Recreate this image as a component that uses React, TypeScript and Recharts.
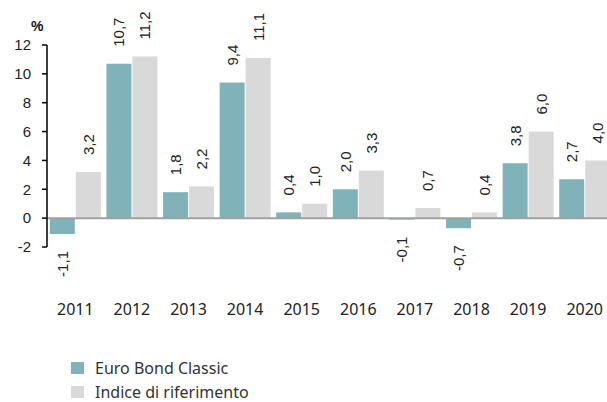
import React from 'react';
import { BarChart, Bar, XAxis, YAxis, ReferenceLine, Legend, LabelList } from 'recharts';

const years = ['2011', '2012', '2013', '2014', '2015', '2016', '2017', '2018', '2019', '2020'];
const fundValues = [-1.1, 10.7, 1.8, 9.4, 0.4, 2.0, -0.1, -0.7, 3.8, 2.7];
const benchmarkValues = [3.2, 11.2, 2.2, 11.1, 1.0, 3.3, 0.7, 0.4, 6.0, 4.0];
const yTicks = [-2, 0, 2, 4, 6, 8, 10, 12];
const seriesNames = ['Euro Bond Classic', 'Indice di riferimento'];

const TEAL = '#80b3b9';
const GRAY = '#d9d9d9';

const data = years.map((y, i) => ({ year: y, fund: fundValues[i], bench: benchmarkValues[i] }));

const fmt = (v: number) => v.toFixed(1).replace('.', ',');

const RotLabel = (props: any) => {
  const { x, y, width, height, value } = props;
  if (value === undefined || value === null) return null;
  const cx = Number(x) + Number(width) / 2;
  const top = Math.min(Number(y), Number(y) + Number(height));
  const bottom = Math.max(Number(y), Number(y) + Number(height));
  const neg = Number(value) < 0;
  const ay = neg ? bottom + 17 : top - 17;
  return (
    <text
      x={cx}
      y={ay}
      transform={`rotate(-90 ${cx} ${ay})`}
      textAnchor={neg ? 'end' : 'start'}
      dominantBaseline="central"
      fontFamily="'Liberation Sans', Arial, sans-serif"
      fontSize={15}
      fill="#222"
    >
      {fmt(Number(value))}
    </text>
  );
};

const LegendContent = () => (
  <div style={{ fontFamily: "'Noto Sans', sans-serif", fontSize: 16, color: '#333' }}>
    {[TEAL, GRAY].map((c, i) => (
      <div key={i} style={{ display: 'flex', alignItems: 'center', height: 24 }}>
        <div style={{ width: 13, height: 12, background: c, marginRight: 11 }} />
        <span>{seriesNames[i]}</span>
      </div>
    ))}
  </div>
);

export default function App() {
  return (
    <div style={{ position: 'absolute', left: 8, top: 8, width: 599, height: 394, overflow: 'hidden' }}>
      <div
        style={{
          position: 'absolute',
          left: 23,
          top: 10,
          fontFamily: "'Liberation Sans', Arial, sans-serif",
          fontWeight: 'bold',
          fontSize: 14,
          lineHeight: '16px',
          color: '#111',
        }}
      >
        %
      </div>
      <BarChart
        width={605}
        height={394}
        data={data}
        margin={{ top: 37, right: 0, bottom: 0, left: 0 }}
        barCategoryGap="5%"
        barGap={1}
      >
        <YAxis
          width={39}
          domain={[-2, 12]}
          ticks={yTicks}
          interval={0}
          axisLine={{ stroke: '#000', strokeWidth: 1.5 }}
          tickLine={{ stroke: '#000', strokeWidth: 1.5 }}
          tickSize={5}
          tickMargin={11}
          tick={{ fill: '#222', fontSize: 15, fontFamily: "'Liberation Sans', Arial, sans-serif" }}
        />
        <XAxis
          dataKey="year"
          height={95}
          axisLine={false}
          tickLine={false}
          tickSize={0}
          tickMargin={57}
          interval={0}
          tick={{ fill: '#222', fontSize: 16, fontFamily: "'Noto Sans', sans-serif" }}
        />
        <ReferenceLine y={0} stroke="#a0a0a0" strokeWidth={2} />
        <Legend
          verticalAlign="bottom"
          align="left"
          height={60}
          wrapperStyle={{ left: 63, top: 348, width: 300 }}
          content={<LegendContent />}
        />
        <Bar dataKey="fund" name={seriesNames[0]} fill={TEAL} isAnimationActive={false}>
          <LabelList dataKey="fund" content={<RotLabel />} />
        </Bar>
        <Bar dataKey="bench" name={seriesNames[1]} fill={GRAY} isAnimationActive={false}>
          <LabelList dataKey="bench" content={<RotLabel />} />
        </Bar>
      </BarChart>
    </div>
  );
}
